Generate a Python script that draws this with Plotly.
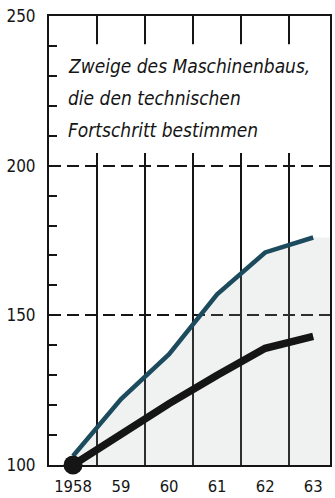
import plotly.graph_objects as go

# Index 1958 = 100
years = [1958, 1959, 1960, 1961, 1962, 1963]
year_labels = ["1958", "59", "60", "61", "62", "63"]
leading_branches = [103, 122, 137, 157, 171, 176]   # branches driving technical progress
machine_building = [100, 110.5, 120.5, 130, 139, 143]

y_ticks = [100, 150, 200, 250]
title_lines = [
    "Zweige des Maschinenbaus,",
    "die den technischen",
    "Fortschritt bestimmen",
]

INK = "#151515"
TEAL = "#1d4b5e"
FONT = "DejaVu Sans Condensed, Liberation Sans Narrow, DejaVu Sans, sans-serif"
X_LEFT, X_RIGHT = years[0] - 0.5, years[-1] + 0.35

fig = go.Figure()

# shaded area under the upper curve, carried on to the right frame
fig.add_trace(go.Scatter(
    x=years + [X_RIGHT], y=leading_branches + [leading_branches[-1]],
    mode="none", fill="tozeroy", fillcolor="rgba(165,180,175,0.17)",
    hoverinfo="skip", showlegend=False,
))
fig.add_trace(go.Scatter(
    x=years, y=leading_branches, mode="lines",
    line=dict(color=TEAL, width=4.5), showlegend=False,
))
fig.add_trace(go.Scatter(
    x=years, y=machine_building, mode="lines",
    line=dict(color=INK, width=7.5), showlegend=False,
))
fig.add_trace(go.Scatter(
    x=years[:1], y=machine_building[:1], mode="markers",
    marker=dict(color=INK, size=19), cliponaxis=False, showlegend=False,
))

# white panel behind the caption
fig.add_shape(type="rect", xref="paper", yref="paper",
              x0=0.04, x1=0.985, y0=0.695, y1=0.937,
              fillcolor="white", line=dict(width=0), layer="above")

caption_y = [0.889, 0.818, 0.747]
for text, yy in zip(title_lines, caption_y):
    fig.add_annotation(
        text=text, xref="paper", yref="paper", x=0.062, y=yy,
        xanchor="left", yanchor="middle", showarrow=False,
        font=dict(family=FONT, size=19, color=INK, style="italic"),
    )

fig.update_layout(
    width=335, height=498,
    margin=dict(l=49, r=5, t=16, b=33),
    paper_bgcolor="white", plot_bgcolor="white",
    font=dict(family=FONT, color=INK, size=17),
    xaxis=dict(
        range=[X_LEFT, X_RIGHT], automargin=False,
        tickvals=years, ticktext=year_labels, ticks="",
        ticklabelstandoff=5,
        showgrid=False, zeroline=False,
        showline=True, linecolor=INK, linewidth=2, mirror=True,
        tickfont=dict(size=16.5),
        minor=dict(tick0=X_LEFT, dtick=1, showgrid=True,
                   gridcolor=INK, gridwidth=1.5, ticks=""),
    ),
    yaxis=dict(
        range=[y_ticks[0], y_ticks[-1]], automargin=False,
        tickvals=y_ticks, ticks="inside", ticklen=8, tickwidth=2, tickcolor=INK,
        ticklabelstandoff=8,
        showgrid=True, gridcolor=INK, gridwidth=1.5, griddash="12px,6px",
        zeroline=False,
        showline=True, linecolor=INK, linewidth=2, mirror=True,
        tickfont=dict(size=17),
        minor=dict(dtick=10, ticks="inside", ticklen=8, tickwidth=2,
                   tickcolor=INK, showgrid=False),
    ),
)

fig.write_html("out.html")
